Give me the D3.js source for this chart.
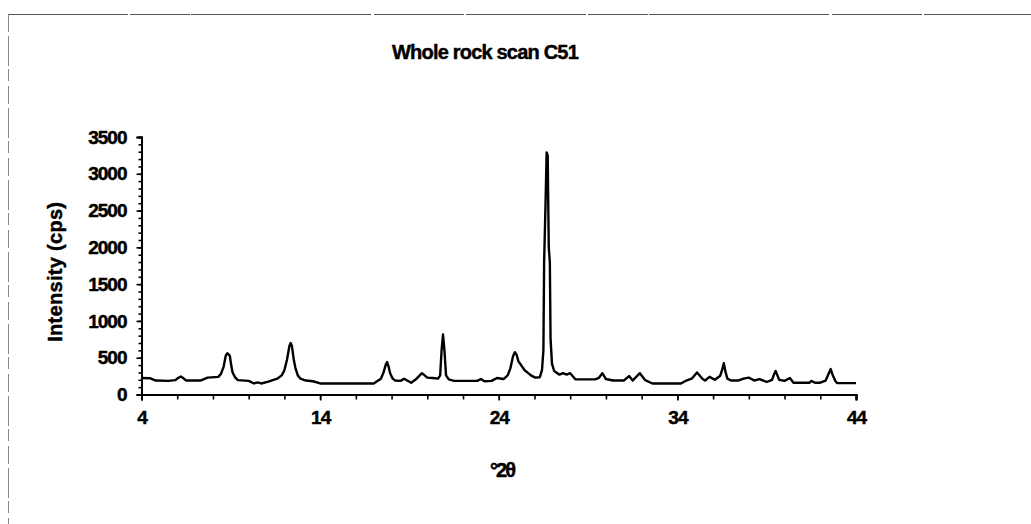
<!DOCTYPE html>
<html>
<head>
<meta charset="utf-8">
<script src="https://cdn.jsdelivr.net/npm/d3@7"></script>
<style>
  html, body { margin: 0; padding: 0; background: #fff; }
  svg { display: block; }
  text { font-family: "Liberation Sans", Arial, sans-serif; font-weight: bold; fill: #000; stroke: #000; stroke-width: 0.45px; }
</style>
</head>
<body>
<svg id="chart" width="1031" height="524"></svg>
<script>
// X-ray diffraction scan: diffraction angle (°2θ) and measured intensity (cps)
const twoTheta = [
  4.0, 4.5, 4.8, 5.5, 5.9, 6.05, 6.2, 6.35, 6.5, 7.3, 7.7, 8.3, 8.45, 8.6, 8.72, 8.8,
  8.88, 8.95, 9.02, 9.1, 9.25, 9.4, 10.0, 10.3, 10.5, 10.7, 11.1, 11.6, 11.85, 12.0,
  12.15, 12.28, 12.35, 12.42, 12.52, 12.62, 12.75, 12.9, 13.2, 13.6, 14.0, 17.0, 17.4,
  17.55, 17.68, 17.75, 17.82, 17.92, 18.05, 18.2, 18.5, 18.7, 19.1, 19.4, 19.7, 20.0,
  20.3, 20.6, 20.72, 20.8, 20.88, 20.96, 21.05, 21.2, 21.5, 22.8, 23.0, 23.2, 23.6,
  23.9, 24.27, 24.5, 24.65, 24.8, 24.9, 25.0, 25.1, 25.25, 25.45, 25.6, 25.8, 26.05,
  26.3, 26.42, 26.5, 26.54, 26.62, 26.68, 26.74, 26.8, 26.86, 26.9, 26.98, 27.1, 27.4,
  27.6, 27.8, 28.0, 28.3, 29.4, 29.6, 29.8, 30.0, 30.4, 31.0, 31.3, 31.5, 31.9, 32.2,
  32.6, 34.2, 34.5, 34.8, 35.1, 35.4, 35.55, 35.8, 36.1, 36.4, 36.5, 36.6, 36.7, 36.8,
  37.0, 37.4, 37.7, 38.0, 38.3, 38.6, 39.0, 39.3, 39.42, 39.5, 39.6, 39.7, 40.0, 40.3,
  40.5, 41.4, 41.5, 41.7, 42.0, 42.3, 42.48, 42.58, 42.7, 42.85, 42.95, 44.0
];
const intensity = [
  225, 220, 190, 185, 195, 225, 245, 220, 190, 190, 230, 240, 280, 380, 530, 560,
  545, 520, 400, 300, 230, 195, 185, 150, 165, 150, 175, 215, 260, 330,
  480, 660, 700, 660, 480, 360, 260, 215, 190, 180, 150, 150, 215,
  300, 410, 440, 390, 290, 220, 190, 185, 215, 160, 215, 290, 230,
  225, 215, 260, 600, 815, 600, 260, 205, 185, 185, 210, 180, 185,
  225, 210, 260, 355, 520, 575, 540, 450, 400, 330, 300, 260, 230,
  235, 330, 600, 1800, 2600, 3290, 3250, 2000, 1800, 760, 420, 320, 270,
  290, 270, 290, 205, 205, 225, 290, 210, 190, 190, 250, 190, 290, 195,
  150, 150, 190, 215, 300, 215, 190, 240, 200, 255, 330, 425, 300, 215,
  190, 190, 215, 230, 190, 210, 170, 200, 280, 320, 260, 200, 185, 225,
  160, 160, 185, 160, 160, 190, 290, 345, 260, 180, 155, 155
];

const xTickValues = [4, 14, 24, 34, 44];
const yTickValues = [0, 500, 1000, 1500, 2000, 2500, 3000, 3500];

const chartTitle = "Whole rock scan C51";
const xTitle = "°2θ";
const yTitle = "Intensity (cps)";

const svg = d3.select("#chart");
const W = 1031, H = 524;

// Page frame (thin broken rules along the top and left edges)
svg.append("line")
  .attr("x1", 8).attr("x2", W).attr("y1", 14.5).attr("y2", 14.5)
  .attr("stroke", "#555").attr("stroke-width", 1)
  .attr("stroke-dasharray", "120 2 60 1 180 3 90 2");
svg.append("line")
  .attr("x1", 8.5).attr("x2", 8.5).attr("y1", 14).attr("y2", H)
  .attr("stroke", "#888").attr("stroke-width", 1)
  .attr("stroke-dasharray", "18 4 30 3 12 5");

const plot = { left: 141.5, right: 856, top: 137, bottom: 394.5 };

const x = d3.scaleLinear().domain([4, 44]).range([plot.left, plot.right]);
const y = d3.scaleLinear().domain([0, 3500]).range([plot.bottom, plot.top]);

// Data trace
const points = twoTheta.map((t, i) => [t, intensity[i]]);
svg.append("path")
  .datum(points)
  .attr("fill", "none")
  .attr("stroke", "#000")
  .attr("stroke-width", 2.4)
  .attr("stroke-linejoin", "round")
  .attr("d", d3.line().x(d => x(d[0])).y(d => y(d[1])));

// Minor ticks
const xMinor = d3.range(4, 44.01, 2);
const yMinor = d3.range(0, 3500.01, 100);

function styleTickText(sel) {
  sel.style("font-size", "19px")
    .style("letter-spacing", "-1px")
    .style("font-family", "'Liberation Sans', Arial, sans-serif")
    .style("font-weight", "bold")
    .attr("fill", "#000")
    .attr("stroke", "#000")
    .attr("stroke-width", 0.45);
}

const xAxisG = svg.append("g").attr("transform", `translate(0,${plot.bottom})`);
xAxisG.call(d3.axisBottom(x).tickValues(xMinor).tickSize(5).tickFormat(""));
xAxisG.append("g").call(d3.axisBottom(x).tickValues(xTickValues).tickSize(6).tickPadding(10)
  .tickFormat(d3.format("d")));
xAxisG.selectAll(".domain").attr("stroke", "#000").attr("stroke-width", 2);
xAxisG.selectAll(".tick line").attr("stroke", "#000").attr("stroke-width", 1.6);
styleTickText(xAxisG.selectAll("text"));

const yAxisG = svg.append("g").attr("transform", `translate(${plot.left},0)`);
yAxisG.call(d3.axisLeft(y).tickValues(yMinor).tickSize(3).tickFormat(""));
yAxisG.append("g").call(d3.axisLeft(y).tickValues(yTickValues).tickSize(5).tickPadding(10)
  .tickFormat(d3.format("d")));
yAxisG.selectAll(".domain").attr("stroke", "#000").attr("stroke-width", 2);
yAxisG.selectAll(".tick line").attr("stroke", "#000").attr("stroke-width", 1.6);
styleTickText(yAxisG.selectAll("text"));

// Titles
svg.append("text")
  .attr("x", 485).attr("y", 59)
  .attr("text-anchor", "middle")
  .style("font-size", "20px")
  .style("letter-spacing", "-0.8px")
  .text(chartTitle);

svg.append("text")
  .attr("transform", `translate(62,${(plot.top + plot.bottom) / 2 + 6}) rotate(-90)`)
  .attr("text-anchor", "middle")
  .style("font-size", "20px")
  .style("letter-spacing", "0.3px")
  .text(yTitle);

svg.append("text")
  .attr("x", 502).attr("y", 477)
  .attr("text-anchor", "middle")
  .style("font-size", "20px")
  .style("letter-spacing", "-2px")
  .text(xTitle);
</script>
</body>
</html>
